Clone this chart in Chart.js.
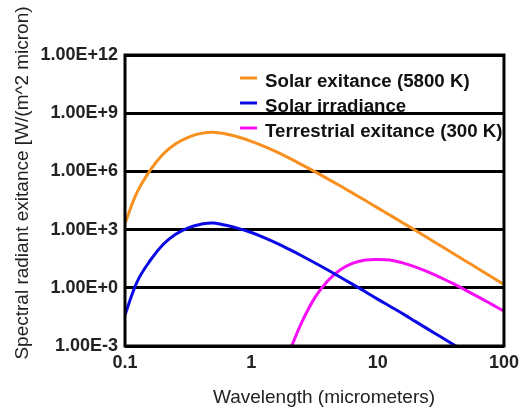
<!DOCTYPE html>
<html>
<head>
<meta charset="utf-8">
<script src="https://cdn.jsdelivr.net/npm/chart.js@4/dist/chart.umd.min.js"></script>
<style>
    html, body { margin: 0; padding: 0; background: #fff; }
</style>
</head>
<body>
<canvas id="myChart" width="525" height="410"></canvas>
<script>
// values (W/(m^2 micron))
const wavelengths = [0.1, 0.125, 0.16, 0.2, 0.25, 0.32, 0.4, 0.5, 0.63, 0.8, 1, 1.25, 1.6, 2, 2.5, 3.2, 4, 5, 6.3, 8, 10, 12.5, 16, 20, 25, 32, 40, 50, 63, 80, 100];
const solarExitance = [2.1e3, 8.7e4, 1.26e6, 7.6e6, 2.6e7, 5.9e7, 9.1e7, 1.05e8, 8.5e7, 5.75e7, 3.55e7, 2e7, 9.8e6, 4.8e6, 2.24e6, 9.5e5, 4.25e5, 1.86e5, 7.8e4, 3.15e4, 1.32e4, 5.6e3, 2.13e3, 890, 367, 138, 57, 23.5, 9.4, 3.6, 1.48];
const solarIrradiance = [0.04, 2.1, 28, 170, 560, 1.26e3, 1.9e3, 2.2e3, 1.66e3, 1.12e3, 710, 400, 195, 95, 45, 19, 8.5, 3.7, 1.55, 0.63, 0.26, 0.112, 0.044, 0.018, 0.0074, 0.0028, 0.00117, 4.9e-4, null, null, null];
const terrestrialExitance = [null, null, null, null, null, null, null, null, null, null, null, null, null, 5e-4, 0.016, 0.33, 2.2, 8, 18, 27, 29, 27, 18.6, 11.7, 6.6, 3.2, 1.58, 0.74, 0.33, 0.139, 0.063];

const seriesNames = ["Solar exitance (5800 K)", "Solar irradiance", "Terrestrial exitance (300 K)"];
const seriesColors = ["#f7901e", "#0a0ae6", "#f70ef7"];

const xTickValues = [0.1, 1, 10, 100];
const xTickLabels = ["0.1", "1", "10", "100"];
const yTickValues = [1e-3, 1, 1e3, 1e6, 1e9, 1e12];
const yTickLabels = ["1.00E-3", "1.00E+0", "1.00E+3", "1.00E+6", "1.00E+9", "1.00E+12"];

const xTitle = "Wavelength (micrometers)";
const yTitle = "Spectral radiant exitance [W/(m^2 micron)";

const fontFamily = '"Liberation Sans", Arial, sans-serif';

// legend drawn inside the plot, under the grid lines
const insideLegend = {
    id: 'insideLegend',
    beforeDraw(chart) {
        const ctx = chart.ctx;
        const rows = [82, 107, 132];
        ctx.save();
        ctx.font = 'bold 18.7px ' + fontFamily;
        ctx.textBaseline = 'middle';
        ctx.fillStyle = '#111';
        for (let i = 0; i < seriesNames.length; i++) {
            ctx.strokeStyle = seriesColors[i];
            ctx.lineWidth = 3;
            ctx.beginPath();
            ctx.moveTo(240, rows[i] - 4);
            ctx.lineTo(257, rows[i] - 4);
            ctx.stroke();
            ctx.fillText(seriesNames[i], 265, rows[i]);
        }
        ctx.restore();
    }
};

// frame round the plot and the axis titles
const frame = {
    id: 'frame',
    afterDatasetsDraw(chart) {
        const a = chart.chartArea;
        const ctx = chart.ctx;
        ctx.save();
        ctx.strokeStyle = '#000';
        ctx.lineWidth = 3;
        ctx.strokeRect(a.left, a.top, a.right - a.left, a.bottom - a.top);
        ctx.restore();
    },
    afterDraw(chart) {
        const ctx = chart.ctx;
        ctx.save();
        ctx.font = '19px ' + fontFamily;
        ctx.fillStyle = '#222';
        ctx.textAlign = 'center';
        ctx.textBaseline = 'middle';
        ctx.fillText(xTitle, 324, 398);
        ctx.translate(23, 183);
        ctx.rotate(-Math.PI / 2);
        ctx.fillText(yTitle, 0, 0);
        ctx.restore();
    }
};

const datasets = [solarExitance, solarIrradiance, terrestrialExitance].map((values, i) => ({
    label: seriesNames[i],
    data: values,
    borderColor: seriesColors[i],
    backgroundColor: seriesColors[i],
    borderWidth: 3,
    pointRadius: 0,
    tension: 0.4,
    spanGaps: false
}));

let ctx = document.getElementById('myChart').getContext('2d');
let myChart = new Chart(ctx, {
    type: 'line',
    data: {
        labels: wavelengths,
        datasets: datasets
    },
    options: {
        responsive: false,
        animation: false,
        layout: { padding: { top: 55, right: 16, left: 0, bottom: 0 } },
        plugins: {
            legend: { display: false },
            tooltip: { enabled: false }
        },
        scales: {
            x: {
                type: 'logarithmic',
                min: 0.1,
                max: 100,
                afterBuildTicks: scale => { scale.ticks = xTickValues.map(v => ({ value: v })); },
                afterFit: scale => { scale.height = 64; },
                grid: { display: false, drawTicks: false },
                border: { display: false },
                ticks: {
                    autoSkip: false,
                    maxRotation: 0,
                    padding: 6,
                    color: '#222',
                    font: { family: fontFamily, size: 18, weight: 'bold' },
                    callback: (v, i) => xTickLabels[i]
                }
            },
            y: {
                type: 'logarithmic',
                min: 1e-3,
                max: 1e12,
                afterBuildTicks: scale => { scale.ticks = yTickValues.map(v => ({ value: v })); },
                afterFit: scale => { scale.width = 125; },
                grid: { color: '#000', lineWidth: 3, drawTicks: false },
                border: { display: false },
                ticks: {
                    autoSkip: false,
                    padding: 7,
                    color: '#222',
                    font: { family: fontFamily, size: 18, weight: 'bold' },
                    callback: (v, i) => yTickLabels[i]
                }
            }
        }
    },
    plugins: [insideLegend, frame]
});
</script>
</body>
</html>
